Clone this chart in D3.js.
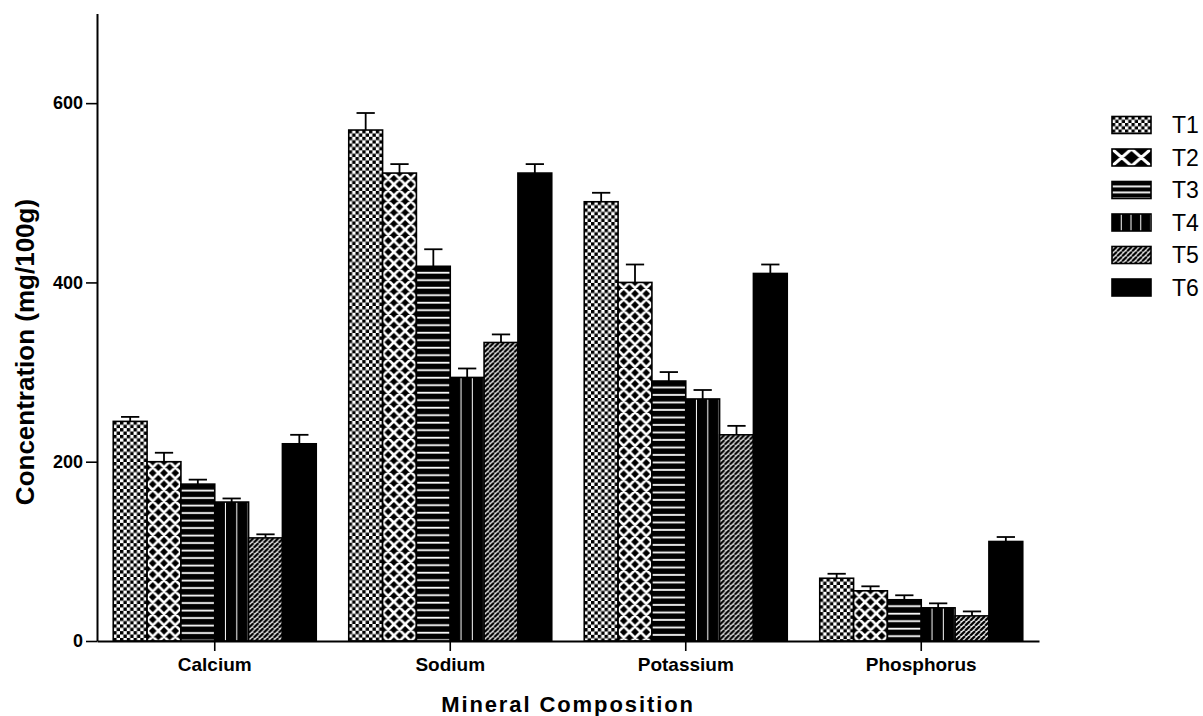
<!DOCTYPE html>
<html>
<head>
<meta charset="utf-8">
<script src="https://cdn.jsdelivr.net/npm/d3@7/dist/d3.min.js"></script>
<style>
  html, body { margin: 0; padding: 0; background: #fff; }
  svg { display: block; }
  text { font-family: "Liberation Sans", Arial, Helvetica, sans-serif; fill: #000; }
</style>
</head>
<body>
<svg id="chart" width="1203" height="716"></svg>
<script>
// Mineral composition (mg/100g) by treatment
const categories = ["Calcium", "Sodium", "Potassium", "Phosphorus"];
const seriesNames = ["T1", "T2", "T3", "T4", "T5", "T6"];

// Means per treatment, in category order
const T1 = [245, 570, 490, 70];
const T2 = [200, 522, 400, 56];
const T3 = [175, 418, 290, 46];
const T4 = [155, 294, 270, 37];
const T5 = [115, 333, 230, 28];
const T6 = [220, 522, 410, 111];

// Upper error (SD) per treatment, in category order
const T1err = [5, 19, 10, 5];
const T2err = [10, 10, 20, 5];
const T3err = [5, 19, 10, 5];
const T4err = [4, 10, 10, 5];
const T5err = [4, 9, 10, 5];
const T6err = [10, 10, 10, 5];

const yTicks = [0, 200, 400, 600];

const means = [T1, T2, T3, T4, T5, T6];
const errs = [T1err, T2err, T3err, T4err, T5err, T6err];

const rows = [];
categories.forEach((c, ci) => {
  seriesNames.forEach((s, si) => {
    rows.push({ cat: c, ser: s, si: si, value: means[si][ci], err: errs[si][ci] });
  });
});

const svg = d3.select("#chart");
const defs = svg.append("defs");

const x0 = d3.scaleBand().domain(categories).range([97, 1039])
  .paddingInner(0.138).paddingOuter(0.069);
const x1 = d3.scaleBand().domain(seriesNames).range([0, x0.bandwidth()]).padding(0);
const y = d3.scaleLinear().domain([0, 700]).range([641, 13.5]);

// Builds the fill pattern of a treatment, anchored at the top-left of its box
function makePattern(id, si, x, y0, w, h, key) {
  const p = defs.append("pattern").attr("id", id)
    .attr("patternUnits", "userSpaceOnUse").attr("x", x).attr("y", y0);
  if (si === 0) {
    const t = key ? w / 6 : w / 5;
    p.attr("width", t).attr("height", t);
    p.append("rect").attr("width", t).attr("height", t).attr("fill", "#fff");
    p.append("rect").attr("width", t / 2).attr("height", t / 2).attr("fill", "#000");
    p.append("rect").attr("x", t / 2).attr("y", t / 2).attr("width", t / 2).attr("height", t / 2).attr("fill", "#000");
  } else if (si === 1) {
    const tw = key ? w / 2 : w / 3;
    const th = key ? h : w / 3;
    p.attr("width", tw).attr("height", th);
    p.append("rect").attr("width", tw).attr("height", th).attr("fill", "#000");
    let d = "";
    for (const dx of [-tw, 0, tw]) for (const dy of [-th, 0, th]) {
      d += `M${dx},${dy}L${dx + tw},${dy + th}M${dx + tw},${dy}L${dx},${dy + th}`;
    }
    p.append("path").attr("d", d).attr("stroke", "#fff").attr("stroke-width", key ? 3.2 : 2.6).attr("fill", "none");
  } else if (si === 2) {
    const th = key ? 6 : 7.5;
    p.attr("width", w).attr("height", th);
    p.append("rect").attr("width", w).attr("height", th).attr("fill", "#000");
    p.append("rect").attr("y", th - 2).attr("width", w).attr("height", 1.8).attr("fill", "#fff");
  } else if (si === 3) {
    const tw = key ? w / 4 : w / 3;
    p.attr("width", tw).attr("height", 10);
    p.append("rect").attr("width", tw).attr("height", 10).attr("fill", "#000");
    p.append("rect").attr("x", tw - 1).attr("width", 2).attr("height", 10).attr("fill", "#fff");
  } else if (si === 4) {
    const t = 5;
    p.attr("width", t).attr("height", t);
    p.append("rect").attr("width", t).attr("height", t).attr("fill", "#fff");
    let d = "";
    for (const dx of [-t, 0, t]) d += `M${dx},${t}L${dx + t},0`;
    p.append("path").attr("d", d).attr("stroke", "#000").attr("stroke-width", 2.3).attr("fill", "none");
  } else {
    p.attr("width", 10).attr("height", 10);
    p.append("rect").attr("width", 10).attr("height", 10).attr("fill", "#000");
  }
  return `url(#${id})`;
}

// Bars
const bars = svg.append("g").attr("class", "bars");
rows.forEach((d, i) => {
  const bx = x0(d.cat) + x1(d.ser);
  const bw = x1.bandwidth();
  const by = y(d.value);
  const bh = y(0) - y(d.value);
  const fill = makePattern("fill-" + i, d.si, bx, by, bw, bh, false);
  bars.append("rect")
    .attr("x", bx).attr("y", by).attr("width", bw).attr("height", bh)
    .attr("fill", fill).attr("stroke", "#000").attr("stroke-width", 1.6);
});

// Upper error bars
const eb = svg.append("g").attr("class", "errors")
  .attr("stroke", "#000").attr("stroke-width", 1.8).attr("fill", "none");
rows.forEach(d => {
  const cx = x0(d.cat) + x1(d.ser) + x1.bandwidth() / 2;
  const cap = x1.bandwidth() * 0.27;
  eb.append("line").attr("x1", cx).attr("x2", cx).attr("y1", y(d.value)).attr("y2", y(d.value + d.err));
  eb.append("line").attr("x1", cx - cap).attr("x2", cx + cap)
    .attr("y1", y(d.value + d.err)).attr("y2", y(d.value + d.err));
});

// Y axis
const yAxis = svg.append("g").attr("transform", "translate(97,0)")
  .call(d3.axisLeft(y).tickValues(yTicks).tickSize(11).tickSizeOuter(0).tickPadding(3).tickFormat(d3.format("d")));
yAxis.select(".domain").attr("stroke-width", 2);
yAxis.selectAll(".tick line").attr("stroke-width", 1.6);
yAxis.selectAll(".tick text")
  .style("font-family", '"Liberation Sans", Arial, sans-serif')
  .style("font-size", "18px").style("font-weight", "bold").attr("fill", "#000");

// X axis
const xAxis = svg.append("g").attr("transform", "translate(0,641)")
  .call(d3.axisBottom(x0).tickSize(10).tickSizeOuter(0).tickPadding(7));
xAxis.select(".domain").attr("stroke-width", 2);
xAxis.selectAll(".tick line").attr("stroke-width", 1.6);
xAxis.selectAll(".tick text")
  .style("font-family", '"Liberation Sans", Arial, sans-serif')
  .style("font-size", "19px").style("font-weight", "bold").attr("fill", "#000");

// Axis titles
svg.append("text")
  .attr("transform", "translate(34,352) rotate(-90)")
  .attr("text-anchor", "middle")
  .style("font-size", "26px").style("font-weight", "bold")
  .text("Concentration (mg/100g)");

svg.append("text")
  .attr("x", 568).attr("y", 711.5)
  .attr("text-anchor", "middle")
  .style("font-size", "22px").style("font-weight", "bold").style("letter-spacing", "1.9px")
  .text("Mineral Composition");

// Legend
const legend = svg.append("g").attr("class", "legend");
seriesNames.forEach((s, si) => {
  const cy = 125 + si * 32.5;
  const sx = 1112, sw = 39, sh = 17;
  const fill = makePattern("key-" + si, si, sx, cy - sh / 2, sw, sh, true);
  legend.append("rect")
    .attr("x", sx).attr("y", cy - sh / 2).attr("width", sw).attr("height", sh)
    .attr("fill", fill).attr("stroke", "#000").attr("stroke-width", 1.6);
  legend.append("text")
    .attr("x", 1172).attr("y", cy + 8.2)
    .style("font-size", "23px")
    .text(s);
});
</script>
</body>
</html>
